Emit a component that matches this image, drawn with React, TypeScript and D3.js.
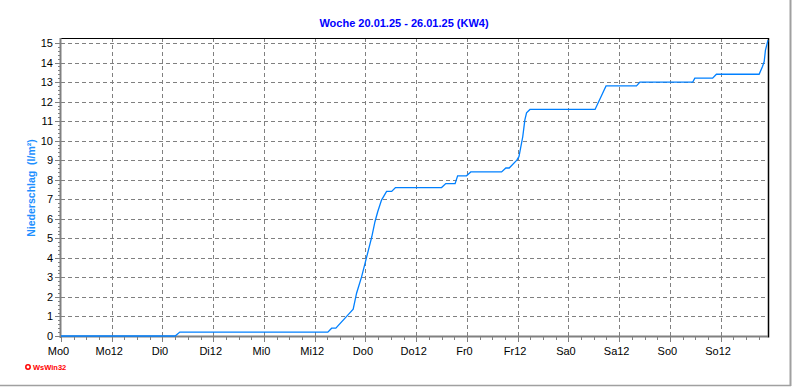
import React from "react";
import * as d3 from "d3";

const title = "Woche 20.01.25 - 26.01.25 (KW4)";
const yLabel = "Niederschlag  (l/m²)";
const xTickLabels = ["Mo0", "Mo12", "Di0", "Di12", "Mi0", "Mi12", "Do0", "Do12", "Fr0", "Fr12", "Sa0", "Sa12", "So0", "So12"];
const yTicks = [0, 1, 2, 3, 4, 5, 6, 7, 8, 9, 10, 11, 12, 13, 14, 15];

// hours since Monday 00:00
const hours = [0, 27.0, 28.1, 63.1, 64.0, 65.0, 68.2, 69.1, 69.9, 71.1, 71.9, 72.7, 73.5, 74.25, 74.9, 75.8, 77.0, 78.2, 79.1, 90.0, 91.0, 93.2, 93.8, 95.9, 96.9, 104.2, 105.2, 106.0, 107.8, 108.3, 109.2, 109.7, 110.1, 110.9, 126.3, 128.9, 136.1, 136.9, 149.4, 149.9, 154.1, 155.0, 165.1, 165.9, 166.3, 166.6, 167.2];
const values = [0, 0, 0.2, 0.2, 0.4, 0.4, 1.16, 1.37, 2.19, 3.04, 3.72, 4.4, 5.08, 5.85, 6.36, 6.96, 7.4, 7.4, 7.6, 7.6, 7.8, 7.8, 8.2, 8.2, 8.4, 8.4, 8.6, 8.6, 9.0, 9.18, 10.2, 11.06, 11.43, 11.6, 11.6, 12.8, 12.8, 13.0, 13.0, 13.2, 13.2, 13.4, 13.4, 13.8, 14.05, 14.64, 15.15];

const W = 792;
const H = 387;
const left = 61;
const right = 768;
const top = 38;
const bottom = 336;

export default function App() {
  const x = d3.scaleLinear().domain([0, 167.2]).range([left, right]);
  const y = d3.scaleLinear().domain([0, 15]).range([bottom, 43]);
  const majorX = d3.range(0, 168, 12);
  const minorX = d3.range(0, 168, 3).filter((h) => h % 12 !== 0 && x(h) < right);
  const minorY = d3.range(0, 15.2, 0.2);
  const line = d3
    .line<number>()
    .x((_, i) => x(hours[i]))
    .y((d) => y(d));
  const font = "'Liberation Sans', Arial, sans-serif";

  return (
    <svg
      width={W}
      height={H}
      style={{ position: "absolute", left: 0, top: 0, background: "#fff" }}
      fontFamily={font}
    >
      <rect x={0} y={0} width={W} height={H} fill="#fff" />
      {/* outer frame */}
      <line x1={790.5} y1={0} x2={790.5} y2={386} stroke="#a0a0a0" strokeWidth={2} />
      <line x1={0} y1={385.5} x2={791} y2={385.5} stroke="#a0a0a0" strokeWidth={1.5} />

      <text x={404} y={27} textAnchor="middle" fontSize={11} fontWeight="bold" fill="#0000ff">
        {title}
      </text>

      {/* grid */}
      {yTicks.slice(1).map((v) => (
        <line key={"hg" + v} x1={left} x2={right} y1={Math.round(y(v)) + 0.5} y2={Math.round(y(v)) + 0.5} stroke="#808080" strokeDasharray="4,3" />
      ))}
      {majorX.slice(1).map((h) => (
        <line key={"vg" + h} x1={Math.round(x(h)) + 0.5} x2={Math.round(x(h)) + 0.5} y1={top} y2={bottom} stroke="#808080" strokeDasharray="4,3" />
      ))}

      {/* borders */}
      <line x1={left} x2={right + 0.5} y1={top + 0.5} y2={top + 0.5} stroke="#000" />
      <line x1={right + 0.5} x2={right + 0.5} y1={top} y2={bottom + 1.5} stroke="#000" strokeWidth={1.5} />

      {/* left axis */}
      <line x1={60.5} x2={60.5} y1={top} y2={bottom + 2} stroke="#808080" strokeWidth={2} />
      {minorY.map((v, i) => (
        <line key={"my" + i} x1={58} x2={60} y1={Math.round(y(v)) + 0.5} y2={Math.round(y(v)) + 0.5} stroke="#808080" />
      ))}
      {yTicks.map((v) => (
        <g key={"yt" + v}>
          <line x1={55} x2={60} y1={Math.round(y(v)) + 0.5} y2={Math.round(y(v)) + 0.5} stroke="#808080" />
          <text x={53} y={y(v) + 4} textAnchor="end" fontSize={11} fill="#000">
            {v}
          </text>
        </g>
      ))}

      {/* bottom axis */}
      <line x1={left - 1} x2={right} y1={336.5} y2={336.5} stroke="#808080" strokeWidth={2} />
      {minorX.map((h) => (
        <line key={"mx" + h} x1={Math.round(x(h)) + 0.5} x2={Math.round(x(h)) + 0.5} y1={337} y2={340} stroke="#808080" />
      ))}
      {majorX.map((h, i) => (
        <g key={"xt" + h}>
          <line x1={Math.round(x(h)) + 0.5} x2={Math.round(x(h)) + 0.5} y1={337} y2={342} stroke="#808080" />
          <text x={x(h) - 2.5} y={355} textAnchor="middle" fontSize={11} fill="#000">
            {xTickLabels[i]}
          </text>
        </g>
      ))}

      {/* data */}
      <path d={line(values) || ""} fill="none" stroke="#0080ff" strokeWidth={1.3} />

      {/* y label */}
      <text
        transform={`translate(35, 188) rotate(-90)`}
        textAnchor="middle"
        fontSize={10.5}
        fontWeight="bold"
        fill="#1e90ff"
        style={{ whiteSpace: "pre" }}
      >
        {yLabel}
      </text>

      {/* footer */}
      <circle cx={28} cy={367} r={2.2} fill="none" stroke="#ff0000" strokeWidth={1.5} />
      <text x={33} y={370} fontSize={7.5} fontWeight="bold" fill="#ff0000">
        WsWin32
      </text>
    </svg>
  );
}
